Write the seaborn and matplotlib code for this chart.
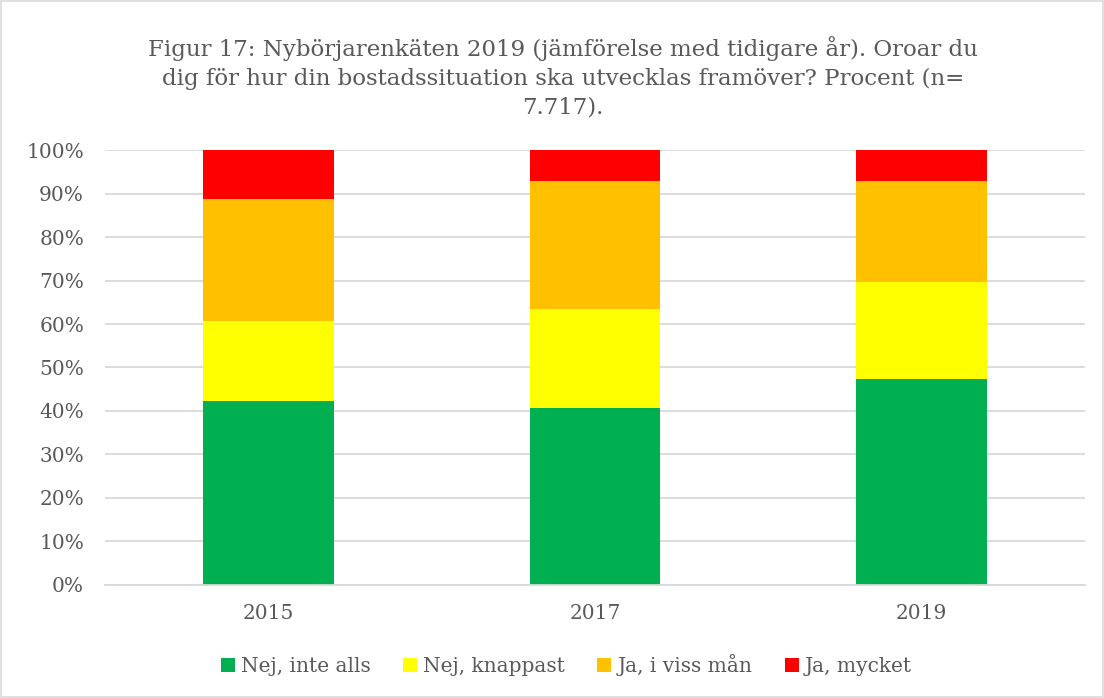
import matplotlib
matplotlib.use("Agg")
import matplotlib.pyplot as plt
import numpy as np
import pandas as pd
import seaborn as sns
from matplotlib.patches import Patch

# data (percent)
years = ["2015", "2017", "2019"]
nej_inte_alls = [42.2, 40.8, 47.4]
nej_knappast = [18.6, 22.7, 22.2]
ja_viss_man = [27.9, 29.5, 23.4]
ja_mycket = [11.3, 7.0, 7.0]

series = ["Nej, inte alls", "Nej, knappast", "Ja, i viss mån", "Ja, mycket"]
colors = ["#00b050", "#ffff00", "#ffc000", "#ff0000"]
TXT = "#595959"

sns.set_style("white")
plt.rcParams["font.family"] = ["DejaVu Serif"]

df = pd.DataFrame({"year": years, series[0]: nej_inte_alls, series[1]: nej_knappast,
                   series[2]: ja_viss_man, series[3]: ja_mycket})
cum = df[series].cumsum(axis=1)

fig = plt.figure(figsize=(11.04, 6.98), dpi=100)
ax = fig.add_axes([0.095, 0.162, 0.888, 0.623])

# draw from the top of the stack downwards so lower segments cover upper ones
for s, c in zip(series[::-1], colors[::-1]):
    sns.barplot(x=df["year"], y=cum[s], color=c, width=0.4, saturation=1,
                ax=ax, zorder=2, edgecolor="none")

ax.set_ylim(0, 100)
ax.set_yticks(np.arange(0, 101, 10))
ax.set_yticklabels([f"{v}%" for v in range(0, 101, 10)])
ax.yaxis.grid(True, color="#d9d9d9", lw=1.3, zorder=0)
ax.set_axisbelow(True)
for sp in ["top", "right", "left"]:
    ax.spines[sp].set_visible(False)
ax.spines["bottom"].set_color("#d9d9d9")
ax.spines["bottom"].set_linewidth(1.3)
ax.tick_params(axis="both", colors=TXT, labelsize=14.5, length=0)
ax.tick_params(axis="y", pad=15)
ax.tick_params(axis="x", pad=14)
ax.set_xlabel(""); ax.set_ylabel("")

fig.text(0.51, 0.889, "Figur 17: Nybörjarenkäten 2019 (jämförelse med tidigare år). Oroar du\n"
         "dig för hur din bostadssituation ska utvecklas framöver? Procent (n=\n7.717).",
         ha="center", va="center", fontsize=16.5, color=TXT, linespacing=1.4)

handles = [Patch(facecolor=c, edgecolor="none") for c in colors]
fig.legend(handles, series, loc="center", bbox_to_anchor=(0.513, 0.047), ncol=4,
           frameon=False, fontsize=14.5, labelcolor=TXT, handlelength=0.7,
           handleheight=0.7, handletextpad=0.3, columnspacing=1.6)

fig.patches.append(plt.Rectangle((0.001, 0.001), 0.998, 0.998, transform=fig.transFigure,
                                 fill=False, edgecolor="#d9d9d9", lw=1.2))

fig.savefig("out.png", dpi=100)
